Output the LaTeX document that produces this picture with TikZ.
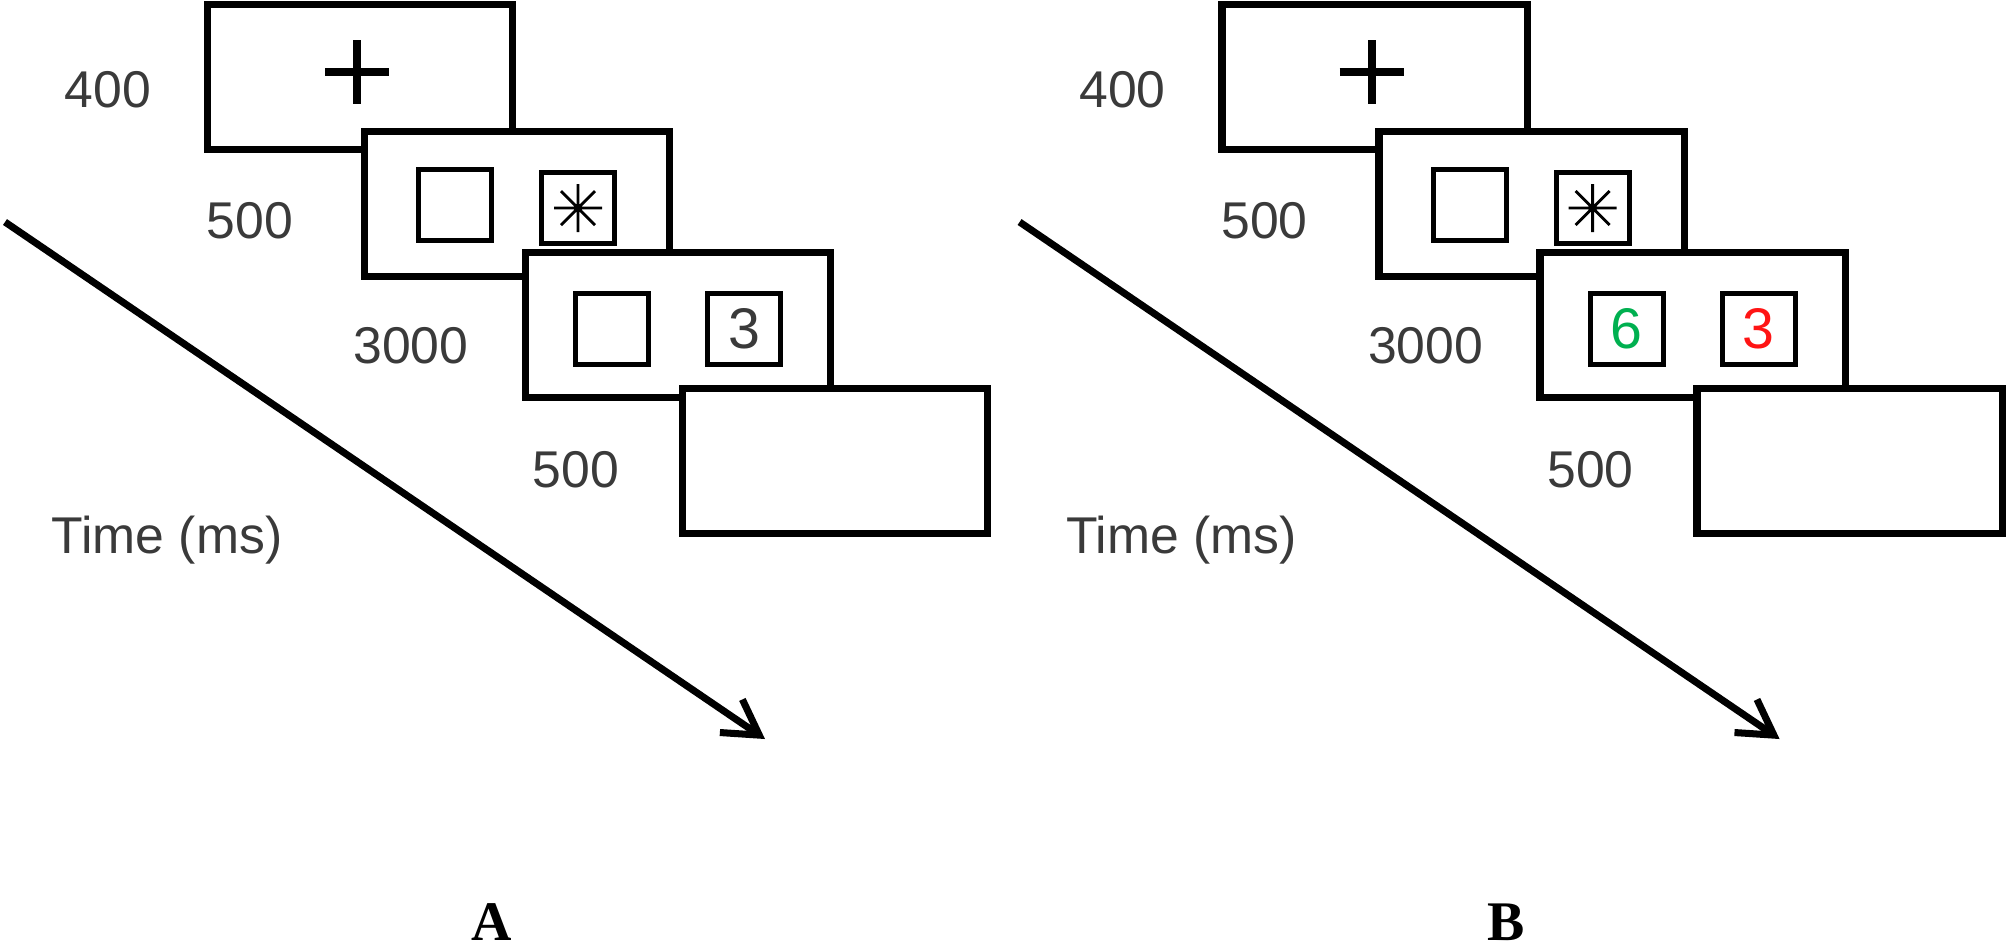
\documentclass[tikz,border=0pt]{standalone}
\usepackage{fontspec}
\setmainfont{Liberation Sans}
\newfontfamily\panelfont{Liberation Serif}
\usepackage{xcolor}
\usetikzlibrary{arrows.meta,positioning}
\definecolor{durgray}{RGB}{58,58,58}
\definecolor{cuegreen}{RGB}{0,176,80}
\definecolor{cuered}{RGB}{255,20,20}

\begin{document}
\begin{tikzpicture}[
    x=0.01cm, y=-0.01cm,
    >={Straight Barb[length=0.34cm, width=0.4cm]},
    screen/.style={draw, line width=2pt, fill=white, minimum width=3.05cm,
                   minimum height=1.45cm, inner sep=0pt},
    cue/.style={draw, line width=1.4pt, fill=white, minimum width=0.73cm,
                minimum height=0.71cm, inner sep=0pt, text=#1,
                font=\fontsize{16.3}{19}\selectfont},
    cue/.default=durgray,
    dur/.style={anchor=base, text=durgray, font=\fontsize{14.7}{17}\selectfont},
    fixline/.style={line width=2.3pt},
    starline/.style={line width=0.8pt},
    arr/.style={->, line width=2pt},
    panel/.style={anchor=base, inner sep=0pt,
                  font=\panelfont\bfseries\fontsize{15.9}{19}\selectfont},
]
\useasboundingbox (0,0) rectangle (2008,950);

% ===== Panel A =====
% --- Screens ---
\node[screen] (a-fix) at (360,77) {};
\coordinate (a-plus) at (357,72);
\draw[fixline] (a-plus) +(-32,0) -- +(32,0) +(0,-32) -- +(0,32);

\node[screen] (a-cue) at (517,204) {};
\node[cue] (a-cueL) at (455,205) {};
\node[cue] (a-cueR) at (578,208) {};
\coordinate (a-star) at (578,208);
\draw[starline] (a-star) +(-24,0) -- +(24,0) +(0,-24) -- +(0,24)
    +(-17,-17) -- +(17,17) +(-17,17) -- +(17,-17);
\fill (a-star) circle[radius=0.045cm];

\node[screen] (a-target) at (678,325) {};
\node[cue] (a-targetL) at (612,329) {};
\node[cue] (a-targetR) at (744,329) {3};

\node[screen] (a-blank) at (835,461) {};

% --- Durations ---
\node[dur] (a-d1) at (108,107) {400};
\node[dur] (a-d2) at (250,238) {500};
\node[dur] (a-d3) at (411,363) {3000};
\node[dur] (a-d4) at (576,487) {500};
\node[dur] (a-time) at (167,553) {Time (ms)};

% --- Time arrow ---
\coordinate (a-start) at (5,222);
\coordinate (a-end) at (765,739);
\draw[arr] (a-start) -- (a-end);

\node[panel] (a-label) at (492,940) {A};

% ===== Panel B =====
\begin{scope}[xshift=10.14cm]
% --- Screens ---
\node[screen] (b-fix) at (360,77) {};
\coordinate (b-plus) at (357,72);
\draw[fixline] (b-plus) +(-32,0) -- +(32,0) +(0,-32) -- +(0,32);

\node[screen] (b-cue) at (517,204) {};
\node[cue] (b-cueL) at (455,205) {};
\node[cue] (b-cueR) at (578,208) {};
\coordinate (b-star) at (578,208);
\draw[starline] (b-star) +(-24,0) -- +(24,0) +(0,-24) -- +(0,24)
    +(-17,-17) -- +(17,17) +(-17,17) -- +(17,-17);
\fill (b-star) circle[radius=0.045cm];

\node[screen] (b-target) at (678,325) {};
\node[cue=cuegreen] (b-targetL) at (612,329) {6};
\node[cue=cuered] (b-targetR) at (744,329) {3};

\node[screen] (b-blank) at (835,461) {};

% --- Durations ---
\node[dur] (b-d1) at (108,107) {400};
\node[dur] (b-d2) at (250,238) {500};
\node[dur] (b-d3) at (411,363) {3000};
\node[dur] (b-d4) at (576,487) {500};
\node[dur] (b-time) at (167,553) {Time (ms)};

% --- Time arrow ---
\coordinate (b-start) at (5,222);
\coordinate (b-end) at (765,739);
\draw[arr] (b-start) -- (b-end);

\node[panel] (b-label) at (492,940) {B};
\end{scope}

\end{tikzpicture}
\end{document}
